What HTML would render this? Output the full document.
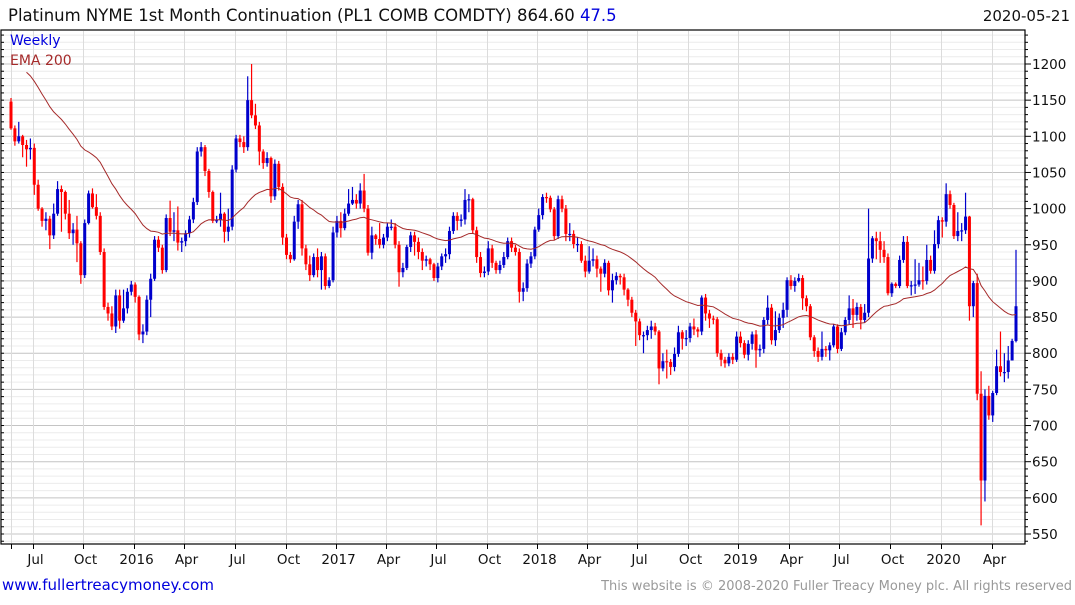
<!DOCTYPE html>
<html><head><meta charset="utf-8"><style>
body{margin:0;background:#fff;width:1075px;height:600px;overflow:hidden;font-family:"Liberation Sans",sans-serif}
svg text{font-family:"DejaVu Sans","Liberation Sans",sans-serif}
</style></head><body>
<svg id="chart" width="1075" height="600" xmlns="http://www.w3.org/2000/svg">
<text x="8" y="21" font-size="16.5" fill="#111">Platinum NYME 1st Month Continuation (PL1 COMB COMDTY) 864.60 <tspan fill="#0000dd">47.5</tspan></text>
<text x="1070" y="21" font-size="15" fill="#111" text-anchor="end">2020-05-21</text>
<g id="grid"></g>
<g id="marks"></g>
<rect x="1" y="30" width="1024" height="514" fill="none" stroke="#000" stroke-width="1.2"/>
<g id="axes"></g>
<text x="10" y="45" font-size="14" fill="#0000dd">Weekly</text>
<text x="10" y="65" font-size="14" fill="#a52a2a">EMA 200</text>
<text x="2" y="590" font-size="15" fill="#0000dd">www.fullertreacymoney.com</text>
<text x="1072" y="590" font-size="13" fill="#999" text-anchor="end">This website is © 2008-2020 Fuller Treacy Money plc. All rights reserved</text>
</svg>
<script>
const closes=[1111,1093,1100,1088,1082,1084,1033,1000,983,986,963,993,1027,1023,993,966,971,952,908,980,1021,1002,990,940,864,855,837,880,845,862,885,895,878,826,830,874,903,957,946,915,987,968,970,953,955,966,985,1009,1079,1085,1052,1023,983,984,993,968,975,1054,1097,1092,1085,1150,1129,1115,1079,1063,1070,1017,1062,1030,960,936,930,982,1006,945,923,908,933,915,934,893,901,967,983,973,993,1007,1012,1007,1025,1000,939,963,958,950,960,975,975,950,912,918,947,963,954,940,928,930,923,904,920,934,937,969,990,983,985,1012,1013,970,933,911,913,945,925,915,922,933,955,946,940,885,890,924,934,971,991,1016,1015,999,962,1013,1000,965,965,951,951,928,913,928,930,917,910,925,887,901,907,905,888,874,856,844,825,825,832,837,830,779,789,788,781,799,829,820,821,837,833,830,877,855,848,847,800,791,786,795,791,823,814,798,813,826,804,806,846,863,818,832,849,860,901,893,900,904,876,865,822,803,795,806,804,811,837,806,829,846,862,853,864,846,856,931,959,955,943,933,883,896,893,929,954,893,894,895,901,900,929,914,951,984,982,1020,1005,962,969,970,989,865,897,744,624,741,714,745,782,774,774,790,817,865];
const highs=[1153,1115,1120,1102,1095,1097,1090,1040,1002,995,990,1007,1038,1032,1025,1012,980,990,955,985,1025,1028,1020,995,945,870,865,888,888,888,890,900,898,880,840,880,910,962,962,950,992,1011,995,1003,960,970,990,1015,1085,1092,1088,1055,1025,990,1022,995,1000,1060,1102,1102,1100,1183,1200,1145,1120,1082,1078,1072,1068,1066,1035,965,940,990,1012,1012,950,935,938,945,940,938,905,975,990,995,1000,1027,1030,1020,1035,1048,1005,975,965,980,965,980,985,980,955,925,950,968,968,960,945,935,932,925,925,938,945,975,995,995,992,1027,1020,1015,975,940,920,955,950,928,928,940,960,960,950,945,898,930,940,975,1000,1020,1022,1018,1002,1018,1018,1005,980,970,960,955,935,948,945,935,920,930,928,910,912,910,910,890,878,860,848,830,838,845,842,832,800,805,792,808,838,832,832,842,848,836,880,882,860,852,850,805,795,800,800,830,830,818,818,830,832,812,850,880,868,858,855,870,905,908,905,910,908,880,868,825,808,830,810,815,840,840,835,850,880,875,870,868,868,1000,962,968,968,955,938,898,898,935,962,962,900,930,925,920,950,935,970,990,988,1035,1025,1008,995,980,1022,990,900,910,775,750,755,748,805,830,800,810,820,943];
const lows=[1109,1087,1090,1071,1058,1068,1019,997,975,970,944,958,990,968,985,958,950,926,896,904,978,1000,985,936,860,845,832,828,834,842,855,880,870,818,814,825,850,900,940,910,912,962,955,942,940,948,960,980,1005,1072,1045,1015,980,980,975,953,955,970,1050,1085,1077,1080,1125,1110,1060,1055,1058,1008,1012,1025,950,930,925,928,972,935,915,900,905,905,888,888,890,898,960,960,970,990,1005,1000,1000,995,935,930,950,945,945,955,970,945,892,905,915,940,935,930,915,920,915,900,898,915,925,930,965,970,975,978,995,965,925,905,905,908,918,910,910,918,930,940,935,870,872,885,918,930,968,985,1008,995,957,958,995,955,955,945,940,925,905,910,920,905,885,905,880,870,895,895,880,865,850,810,818,800,818,820,825,757,775,765,770,775,795,805,810,815,825,822,825,845,835,840,795,782,780,782,785,788,808,793,790,805,780,795,800,840,812,810,828,835,850,888,885,898,860,858,818,795,788,790,795,790,808,800,803,825,840,835,845,833,842,850,925,930,925,925,880,878,890,890,925,890,880,882,892,888,895,910,910,945,960,975,1000,958,955,955,965,845,850,735,562,595,708,705,742,768,760,765,790,815];
const firstOpen=1148;
const yTickValues=[550,600,650,700,750,800,850,900,950,1000,1050,1100,1150,1200];
const xTickLabels=["","Jul","Oct","2016","Apr","Jul","Oct","2017","Apr","Jul","Oct","2018","Apr","Jul","Oct","2019","Apr","Jul","Oct","2020","Apr"];
const xTickWeeks=[0,5.7,18.6,31.8,44.7,57.6,70.8,83.7,96.6,109.5,122.6,135.5,148.4,161.3,174.4,187.3,200.5,213.4,226.5,239.7,252.8];
const emaPeriod=40, emaStart=4, emaSeed=1194;

const NS="http://www.w3.org/2000/svg";
const X0=11,X1=1016,N=closes.length;
function xs(i){return X0+(X1-X0)*i/(N-1);}
function ys(v){return 64+(1200-v)*470/650;}
function mk(tag,attrs,parent){const e=document.createElementNS(NS,tag);for(const k in attrs)e.setAttribute(k,attrs[k]);parent.appendChild(e);return e;}
const grid=document.getElementById('grid'),marks=document.getElementById('marks'),axes=document.getElementById('axes');
// horizontal grid
for(let v=540;v<=1240;v+=10){const y=ys(v);if(y<31||y>543)continue;
 const major=v%50===0;
 const l=mk('line',{x1:2,x2:1025,y1:y,y2:y,stroke:major?'#c4c4c4':'#ececec','stroke-width':1},grid);
 
 
 const t=mk('line',{x1:1025,x2:major?1031:1028,y1:y,y2:y,stroke:'#000','stroke-width':1},axes);
 
 
 const lt=mk('line',{x1:1,x2:4,y1:y,y2:y,stroke:'#000','stroke-width':1},axes);
 
 
}
yTickValues.forEach(v=>{const t=mk('text',{x:1032,y:ys(v)+5,'font-size':13.5,fill:'#111'},axes);t.textContent=v;
 
 });
// vertical grid + x ticks
xTickWeeks.forEach((w,k)=>{const x=Math.round(xs(w))+0.5;
 const g=mk('line',{x1:x,x2:x,y1:31,y2:543,stroke:'#dcdcdc','stroke-width':1},grid);
 
 
 const t=mk('line',{x1:x,x2:x,y1:544,y2:549,stroke:'#000','stroke-width':1},axes);
 
 
 if(xTickLabels[k]){const tx=mk('text',{x:x+2,y:564,'font-size':13.5,fill:'#111','text-anchor':'middle'},axes);tx.textContent=xTickLabels[k];
 
 }
});
// candles
for(let i=0;i<N;i++){const o=i?closes[i-1]:firstOpen,c=closes[i];const col=c>=o?'#0000cc':'#ff0000';const x=xs(i);
 const g=mk('g',{},marks);
 
 
 mk('line',{x1:x,x2:x,y1:ys(highs[i]),y2:ys(lows[i]),stroke:col,'stroke-width':1.2},g);
 const top=ys(Math.max(o,c)),bot=ys(Math.min(o,c));
 mk('rect',{x:x-1.5,y:top,width:3,height:Math.max(1.2,bot-top),fill:col},g);
}
// EMA
const a=2/(emaPeriod+1);let e=emaSeed,pts=[];
for(let i=emaStart;i<N;i++){e=e+a*(closes[i]-e);pts.push(xs(i).toFixed(1)+','+ys(e).toFixed(1));}
const pl=mk('polyline',{points:pts.join(' '),fill:'none',stroke:'#a52a2a','stroke-width':1},marks);


</script>
</body></html>
